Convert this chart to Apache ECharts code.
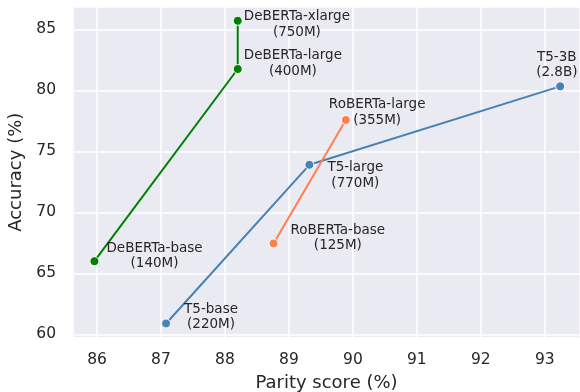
<!DOCTYPE html>
<html>
<head>
<meta charset="utf-8">
<script src="https://cdn.jsdelivr.net/npm/echarts@6/dist/echarts.min.js"></script>
<style>
html,body{margin:0;padding:0;background:#fff;}
#chart{width:580px;height:392px;}
</style>
</head>
<body>
<div id="chart"></div>
<script>
// ---- data ----
const debertaNames = ['DeBERTa-base', 'DeBERTa-large', 'DeBERTa-xlarge'];
const debertaSizes = ['140M', '400M', '750M'];
const debertaParity = [85.96, 88.20, 88.20];
const debertaAcc = [66.0, 81.75, 85.7];

const t5Names = ['T5-base', 'T5-large', 'T5-3B'];
const t5Sizes = ['220M', '770M', '2.8B'];
const t5Parity = [87.08, 89.32, 93.24];
const t5Acc = [60.9, 73.9, 80.33];

const robertaNames = ['RoBERTa-base', 'RoBERTa-large'];
const robertaSizes = ['125M', '355M'];
const robertaParity = [88.76, 89.89];
const robertaAcc = [67.46, 77.57];

const xAxisName = 'Parity score (%)';
const yAxisName = 'Accuracy (%)';

// ---- styling (label offsets in px, relative to the marker centre) ----
const debertaLabelOffsets = [[12, -21], [6, -21], [6, -12]];
const t5LabelOffsets = [[18, -22], [18, -5], [-24, -37]];
const robertaLabelOffsets = [[17, -21], [-17, -23]];

const FONT = 'DejaVu Sans';
const TXT = '#262626';

function makeSeries(names, sizes, xs, ys, offsets, color, z) {
  return {
    type: 'line',
    z: z,
    data: xs.map((x, i) => ({
      value: [x, ys[i]],
      name: names[i],
      size: sizes[i],
      label: { offset: offsets[i] }
    })),
    symbol: 'circle',
    symbolSize: 9,
    showAllSymbol: true,
    lineStyle: { color: color, width: 2 },
    itemStyle: { color: color, borderColor: '#ffffff', borderWidth: 1 },
    label: {
      show: true,
      position: 'inside',
      align: 'left',
      verticalAlign: 'top',
      formatter: p => '{a|' + p.data.name + '}\n{a|(' + p.data.size + ')}',
      rich: {
        a: { align: 'center', fontSize: 13.5, lineHeight: 15.6, color: TXT, fontFamily: FONT }
      }
    },
    emphasis: { disabled: true }
  };
}

const chart = echarts.init(document.getElementById('chart'), null, { renderer: 'canvas' });
chart.setOption({
  animation: false,
  backgroundColor: '#ffffff',
  grid: {
    left: 73, right: 0, top: 7, bottom: 54.5,
    outerBoundsMode: 'none',
    containLabel: false,
    show: true, backgroundColor: '#eaeaf2', borderWidth: 0
  },
  xAxis: {
    type: 'value',
    min: 85.625, max: 93.55,
    splitNumber: 8,
    name: xAxisName,
    nameLocation: 'middle',
    nameGap: 37,
    nameTextStyle: { fontSize: 18, color: TXT, fontFamily: FONT },
    axisLine: { show: false },
    axisTick: { show: false },
    axisLabel: {
      fontSize: 15.5, color: TXT, fontFamily: FONT, margin: 14,
      showMinLabel: false, showMaxLabel: false
    },
    splitLine: { show: true, lineStyle: { color: '#ffffff', width: 1.5 } }
  },
  yAxis: {
    type: 'value',
    min: 59.75, max: 86.83,
    splitNumber: 5,
    name: yAxisName,
    nameLocation: 'middle',
    nameGap: 38,
    nameTextStyle: { fontSize: 18, color: TXT, fontFamily: FONT },
    axisLine: { show: false },
    axisTick: { show: false },
    axisLabel: {
      fontSize: 15.5, color: TXT, fontFamily: FONT, margin: 17,
      showMinLabel: false, showMaxLabel: false
    },
    splitLine: { show: true, lineStyle: { color: '#ffffff', width: 1.5 } }
  },
  series: [
    makeSeries(debertaNames, debertaSizes, debertaParity, debertaAcc, debertaLabelOffsets, '#008000', 2),
    makeSeries(t5Names, t5Sizes, t5Parity, t5Acc, t5LabelOffsets, '#4682b4', 3),
    makeSeries(robertaNames, robertaSizes, robertaParity, robertaAcc, robertaLabelOffsets, '#ff7f50', 4)
  ]
});
</script>
</body>
</html>
